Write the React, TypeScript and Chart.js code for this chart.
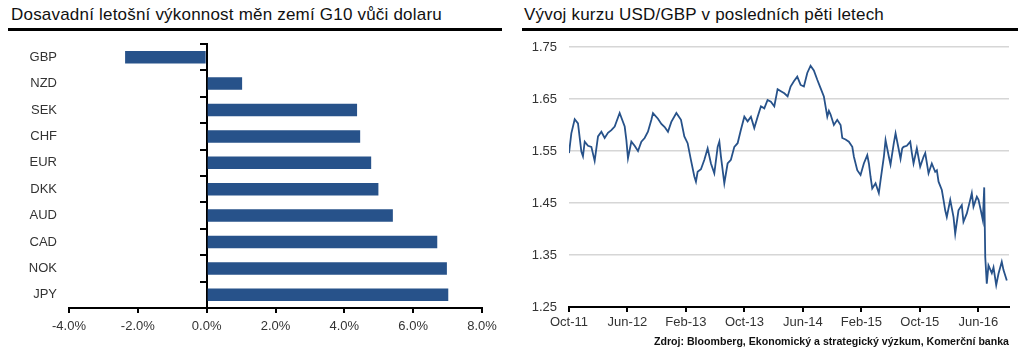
import React, { useEffect, useRef } from 'react';
import { Chart, registerables } from 'chart.js';

Chart.register(...registerables);

// ---- Left chart: YTD performance of G10 currencies vs USD (%) ----
const currencies = ['GBP', 'NZD', 'SEK', 'CHF', 'EUR', 'DKK', 'AUD', 'CAD', 'NOK', 'JPY'];
const ytdPerformance = [-2.37, 1.03, 4.37, 4.46, 4.78, 4.99, 5.41, 6.7, 6.98, 7.02];

// ---- Right chart: USD/GBP over the last five years ----
const rateTickLabels = ['Oct-11', 'Jun-12', 'Feb-13', 'Oct-13', 'Jun-14', 'Feb-15', 'Oct-15', 'Jun-16'];
const rateYTicks = [1.25, 1.35, 1.45, 1.55, 1.65, 1.75];
// months elapsed since October 2011
const rateMonths = [
  0, 0.32, 0.78, 1.23, 1.69, 1.91, 2.15, 2.6, 3.06, 3.51, 3.97, 4.43, 4.88, 5.33, 5.8, 6.25, 6.93, 7.62, 7.85, 8.07,
  8.53, 8.98, 9.44, 9.9, 10.35, 10.8, 11.27, 11.49, 12.17, 12.64, 13.09, 13.54, 14.0, 14.69, 15.32, 15.78, 16.23,
  16.68, 17.15, 17.37, 17.6, 18.05, 18.52, 18.97, 19.42, 19.88, 20.34, 20.57, 20.79, 21.25, 21.7, 22.15, 22.62,
  23.07, 23.52, 23.99, 24.44, 24.89, 25.35, 25.81, 26.26, 26.72, 27.17, 27.62, 28.09, 28.54, 28.99, 29.46, 29.91,
  30.32, 30.77, 31.23, 31.69, 32.14, 32.6, 33.05, 33.5, 33.97, 34.42, 34.87, 35.34, 35.56, 35.79, 36.24, 36.7,
  37.16, 37.39, 37.84, 38.29, 38.76, 38.98, 39.44, 39.89, 40.34, 40.81, 41.03, 41.26, 41.49, 41.94, 42.39, 42.63,
  43.08, 43.31, 43.76, 43.99, 44.44, 44.68, 45.13, 45.36, 45.59, 45.77, 46.22, 46.69, 46.91, 47.14, 47.59, 48.05,
  48.51, 48.74, 49.19, 49.64, 50.1, 50.33, 50.56, 51.01, 51.24, 51.47, 51.69, 52.16, 52.61, 52.84, 53.29, 53.74,
  53.97, 54.43, 54.89, 55.11, 55.34, 55.8, 56.03, 56.34, 56.62, 56.81, 56.95, 57.16, 57.39, 57.85, 58.08, 58.45,
  58.76, 59.21, 59.45, 59.9,
];
const rateValues = [
  1.546, 1.584, 1.611, 1.603, 1.549, 1.54, 1.568, 1.56, 1.558, 1.531, 1.578, 1.587, 1.575, 1.585, 1.59, 1.597,
  1.623, 1.597, 1.571, 1.536, 1.568, 1.56, 1.55, 1.568, 1.575, 1.587, 1.61, 1.623, 1.612, 1.602, 1.596, 1.587,
  1.606, 1.623, 1.61, 1.578, 1.565, 1.533, 1.501, 1.491, 1.51, 1.515, 1.533, 1.555, 1.526, 1.507, 1.558, 1.568,
  1.539, 1.488, 1.526, 1.533, 1.558, 1.565, 1.591, 1.616, 1.607, 1.616, 1.594, 1.616, 1.636, 1.632, 1.648, 1.645,
  1.636, 1.669, 1.665, 1.661, 1.655, 1.674, 1.684, 1.693, 1.677, 1.674, 1.7, 1.714, 1.705, 1.687, 1.671, 1.655,
  1.616, 1.627, 1.62, 1.6, 1.61, 1.6, 1.575, 1.572, 1.568, 1.558, 1.539, 1.513, 1.504, 1.526, 1.542, 1.526, 1.5,
  1.478, 1.488, 1.469, 1.494, 1.539, 1.571, 1.539, 1.524, 1.565, 1.584, 1.552, 1.535, 1.555, 1.558, 1.56, 1.568,
  1.546, 1.526, 1.555, 1.52, 1.539, 1.546, 1.507, 1.526, 1.51, 1.513, 1.491, 1.475, 1.456, 1.436, 1.423, 1.456,
  1.423, 1.391, 1.436, 1.446, 1.414, 1.43, 1.456, 1.469, 1.443, 1.462, 1.456, 1.436, 1.417, 1.48, 1.346, 1.295,
  1.33, 1.315, 1.326, 1.292, 1.314, 1.337, 1.321, 1.301,
];

const FONT = '"Liberation Sans", Arial, Helvetica, sans-serif';
const BLUE = '#27528a';
const TICK_COLOR = '#333333';

function PerformanceChart() {
  const ref = useRef<HTMLCanvasElement>(null);
  useEffect(() => {
    const chart = new Chart(ref.current as HTMLCanvasElement, {
      type: 'bar',
      data: {
        labels: currencies,
        datasets: [
          {
            data: ytdPerformance,
            backgroundColor: BLUE,
            borderWidth: 0,
            barPercentage: 0.95,
            categoryPercentage: 0.5,
          },
        ],
      },
      options: {
        indexAxis: 'y',
        animation: false,
        responsive: false,
        events: [],
        layout: { padding: { top: 10, right: 28, left: 0, bottom: 0 } },
        plugins: { legend: { display: false }, tooltip: { enabled: false } },
        scales: {
          x: {
            type: 'linear',
            min: -4,
            max: 8,
            ticks: {
              stepSize: 2,
              callback: (v: any) => Number(v).toFixed(1) + '%',
              color: TICK_COLOR,
              font: { size: 13, family: FONT },
              padding: 6,
              maxRotation: 0,
            },
            grid: { drawOnChartArea: false, color: '#000', lineWidth: 2, tickLength: 5 },
            border: { color: '#000', width: 2 },
            afterFit: (s: any) => {
              s.height = 36;
            },
          },
          y: {
            type: 'category',
            position: 'left',
            grid: { display: false, drawTicks: false },
            border: { display: false },
            ticks: { color: TICK_COLOR, font: { size: 13, family: FONT }, padding: 12 },
            afterFit: (s: any) => {
              s.width = 69;
              s.paddingTop = 0;
              s.paddingBottom = 0;
            },
          },
          yZero: {
            type: 'category',
            axis: 'y',
            position: { x: 0 },
            offset: true,
            grid: { offset: true, drawOnChartArea: false, tickLength: 6, color: '#000', lineWidth: 2 },
            border: { color: '#000', width: 2 },
            ticks: { display: false },
            afterFit: (s: any) => {
              s.paddingTop = 0;
              s.paddingBottom = 0;
            },
          },
        },
      } as any,
    });
    return () => chart.destroy();
  }, []);
  return (
    <canvas
      ref={ref}
      width={510}
      height={310}
      style={{ position: 'absolute', left: 0, top: 34, width: 510, height: 310 }}
    />
  );
}

function RateChart() {
  const ref = useRef<HTMLCanvasElement>(null);
  useEffect(() => {
    const points = rateMonths.map((m, i) => ({ x: m, y: rateValues[i] }));
    const chart = new Chart(ref.current as HTMLCanvasElement, {
      type: 'line',
      data: {
        datasets: [
          {
            data: points,
            borderColor: BLUE,
            borderWidth: 1.8,
            pointRadius: 0,
            tension: 0,
            fill: false,
          },
        ],
      },
      options: {
        animation: false,
        responsive: false,
        events: [],
        layout: { padding: { top: 13, right: 11, left: 0, bottom: 0 } },
        plugins: { legend: { display: false }, tooltip: { enabled: false } },
        scales: {
          x: {
            type: 'linear',
            min: 0,
            max: 60.2,
            afterBuildTicks: (s: any) => {
              s.ticks = rateTickLabels.map((_, i) => ({ value: i * 8 }));
            },
            ticks: {
              callback: (_v: any, i: number) => rateTickLabels[i],
              color: TICK_COLOR,
              font: { size: 13, family: FONT },
              padding: 3,
              autoSkip: false,
              maxRotation: 0,
            },
            grid: { drawOnChartArea: false, color: '#000', lineWidth: 2, tickLength: 5 },
            border: { color: '#000', width: 2 },
            afterFit: (s: any) => {
              s.height = 37;
            },
          },
          y: {
            type: 'linear',
            min: 1.25,
            max: 1.75,
            afterBuildTicks: (s: any) => {
              s.ticks = rateYTicks.map((v) => ({ value: v }));
            },
            ticks: {
              callback: (v: any) => Number(v).toFixed(2),
              color: TICK_COLOR,
              font: { size: 13, family: FONT },
              padding: 12,
            },
            grid: {
              drawTicks: false,
              lineWidth: 1.5,
              color: (c: any) => (c.tick && c.tick.value < 1.26 ? 'rgba(0,0,0,0)' : '#d6d6d6'),
            },
            border: { display: false },
            afterFit: (s: any) => {
              s.width = 57;
              s.paddingTop = 0;
              s.paddingBottom = 0;
            },
          },
        },
      } as any,
    });
    return () => chart.destroy();
  }, []);
  return (
    <canvas
      ref={ref}
      width={508}
      height={310}
      style={{ position: 'absolute', left: 512, top: 34, width: 508, height: 310 }}
    />
  );
}

export default function App() {
  const titleStyle: React.CSSProperties = {
    position: 'absolute',
    top: 5,
    fontFamily: FONT,
    fontSize: 17,
    lineHeight: '20px',
    color: '#111',
    whiteSpace: 'nowrap',
    letterSpacing: 0.2,
  };
  const ruleStyle: React.CSSProperties = {
    position: 'absolute',
    top: 28,
    height: 3,
    background: '#000',
  };
  return (
    <div
      style={{
        position: 'absolute',
        left: 0,
        top: 0,
        width: 1024,
        height: 352,
        background: '#fff',
        overflow: 'hidden',
        fontFamily: FONT,
      }}
    >
      <div style={{ ...titleStyle, left: 11 }}>Dosavadní letošní výkonnost měn zemí G10 vůči dolaru</div>
      <div style={{ ...ruleStyle, left: 8, width: 494 }} />
      <div style={{ ...titleStyle, left: 524 }}>Vývoj kurzu USD/GBP v posledních pěti letech</div>
      <div style={{ ...ruleStyle, left: 522, width: 496 }} />
      <PerformanceChart />
      <RateChart />
      <div
        style={{
          position: 'absolute',
          right: 1024 - 1009,
          top: 334,
          fontFamily: FONT,
          fontSize: 10.6,
          fontWeight: 'bold',
          lineHeight: '14px',
          color: '#111',
          whiteSpace: 'nowrap',
        }}
      >
        Zdroj: Bloomberg, Ekonomický a strategický výzkum, Komerční banka
      </div>
    </div>
  );
}
